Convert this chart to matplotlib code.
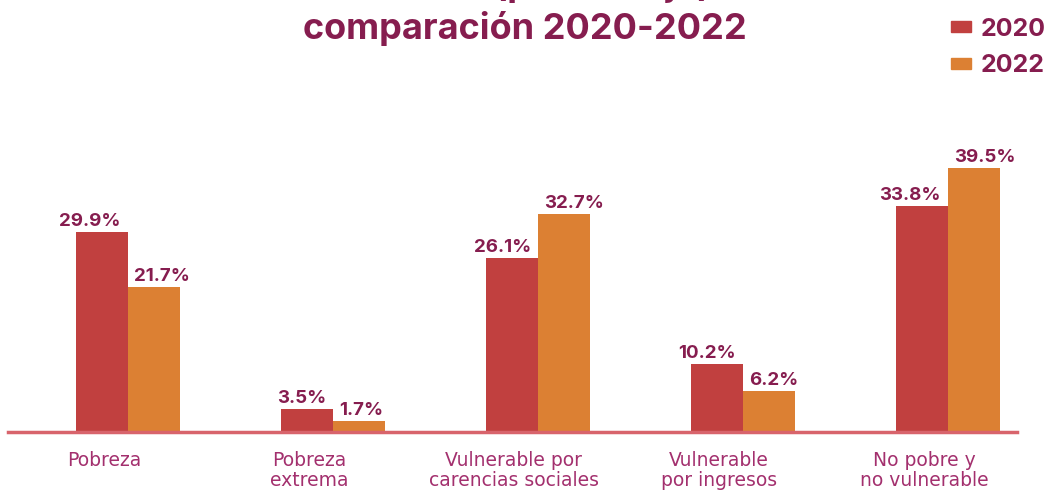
import matplotlib.pyplot as plt
from matplotlib.patches import Patch
import numpy as np

categorias = ["Pobreza", "Pobreza\nextrema", "Vulnerable por\ncarencias sociales",
              "Vulnerable\npor ingresos", "No pobre y\nno vulnerable"]
v2020 = [29.9, 3.5, 26.1, 10.2, 33.8]
v2022 = [21.7, 1.7, 32.7, 6.2, 39.5]
anios = ["2020", "2022"]

c2020 = "#c1403f"
c2022 = "#dc8033"
ctexto = "#861d4f"
ccat = "#a3306e"
cbase = "#d8646c"

W, H = 1055, 492
fig = plt.figure(figsize=(W / 100, H / 100), dpi=100)
# eje: linea base de x=8 a x=1017, y=432 px desde arriba
ax = fig.add_axes([8 / W, 60 / H, 1009 / W, 267 / H])

x = np.arange(len(categorias))
ancho = 0.254
ax.bar(x - ancho / 2, v2020, ancho, color=c2020, label=anios[0])
ax.bar(x + ancho / 2, v2022, ancho, color=c2022, label=anios[1])

ax.set_xlim(-0.585, 4.337)
ax.set_ylim(0, 40)
for s in ["top", "right", "left"]:
    ax.spines[s].set_visible(False)
ax.spines["bottom"].set_color(cbase)
ax.spines["bottom"].set_linewidth(2.5)
ax.set_yticks([])
ax.set_xticks([])

fuente = ["Inter", "DejaVu Sans"]
for i in range(len(x)):
    ax.annotate(f"{v2020[i]}%", (x[i], v2020[i]), xytext=(-7, 6),
                textcoords="offset pixels", ha="right", va="baseline",
                fontsize=13.5, fontweight="bold", color=ctexto, family=fuente)
    ax.annotate(f"{v2022[i]}%", (x[i], v2022[i]), xytext=(6, 6),
                textcoords="offset pixels", ha="left", va="baseline",
                fontsize=13.5, fontweight="bold", color=ctexto, family=fuente)
    ax.annotate(categorias[i], (x[i], 0), xytext=(-24, -19),
                textcoords="offset pixels", ha="center", va="top",
                fontsize=13.5, color=ccat, linespacing=1.05,
                family=["DejaVu Sans"])

fig.text(525 / W, (H + 4) / H, "Pobreza (porcentaje)", ha="center", va="baseline",
         fontsize=26, fontweight="bold", color=ctexto, family=fuente)
fig.text(525 / W, (H - 39) / H, "comparación 2020-2022", ha="center", va="baseline",
         fontsize=26, fontweight="bold", color=ctexto, family=fuente)

handles = [Patch(color=c2020, label=anios[0]), Patch(color=c2022, label=anios[1])]
fig.legend(handles=handles, loc="upper right", bbox_to_anchor=(1.012, 1.01),
           frameon=False, handlelength=0.8, handleheight=0.3, handletextpad=0.35,
           labelspacing=0.55, labelcolor=ctexto,
           prop={"family": fuente, "weight": "bold", "size": 18})

fig.savefig("out.png", dpi=100, facecolor="white")
